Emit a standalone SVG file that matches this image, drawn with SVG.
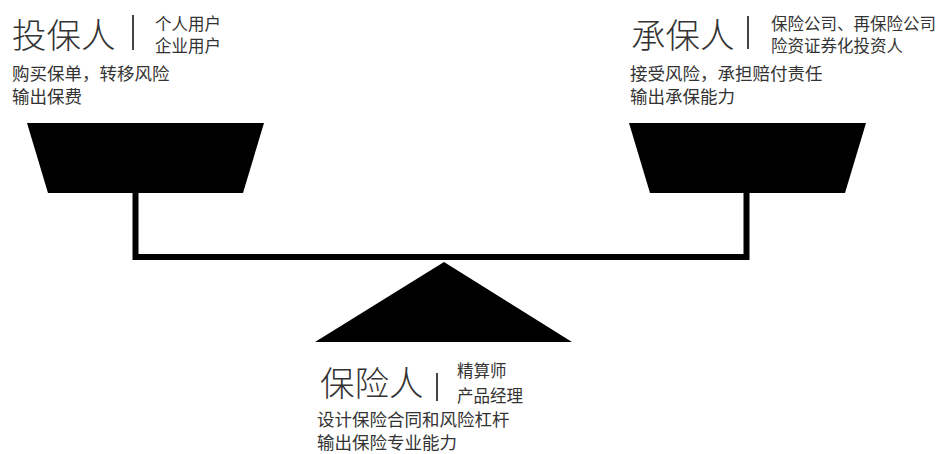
<svg xmlns="http://www.w3.org/2000/svg" width="948" height="454" viewBox="0 0 948 454">
<style>
text{font-family:"Noto Sans CJK SC","Noto Sans",sans-serif;fill:#333}
.big{font-size:34.5px;font-weight:300}
.sm{font-size:16.5px}
.desc{font-size:17.5px}
.sep{stroke:#444;stroke-width:2}
.shape{fill:#000}
.conn{fill:none;stroke:#000;stroke-width:6}
</style>
<rect width="948" height="454" fill="#fff"/>
<g id="connectors">
<path class="conn" d="M135.5,192 V257 H746.5 V192"/>
</g>
<g id="buyer">
<polygon class="shape" points="27,123 264,123 243,193 48,193"/>
<text class="big" x="12" y="48">投保人</text>
<line class="sep" x1="133" y1="15" x2="133" y2="50"/>
<text class="sm" x="155" y="29.5">个人用户</text>
<text class="sm" x="155" y="52">企业用户</text>
<text class="desc" x="12" y="80">购买保单，转移风险</text>
<text class="desc" x="12" y="103">输出保费</text>
</g>
<g id="underwriter">
<polygon class="shape" points="629,123 866,123 845,193 650,193"/>
<text class="big" x="631" y="48">承保人</text>
<line class="sep" x1="748" y1="16" x2="748" y2="49"/>
<text class="sm" x="771" y="29.5">保险公司、再保险公司</text>
<text class="sm" x="771" y="52">险资证券化投资人</text>
<text class="desc" x="630" y="80">接受风险，承担赔付责任</text>
<text class="desc" x="630" y="103">输出承保能力</text>
</g>
<g id="insurer">
<polygon class="shape" points="444,262 572,342 315,342"/>
<text class="big" x="320" y="396">保险人</text>
<line class="sep" x1="437" y1="373" x2="437" y2="401"/>
<text class="sm" x="457" y="377">精算师</text>
<text class="sm" x="457" y="402">产品经理</text>
<text class="desc" x="317" y="426">设计保险合同和风险杠杆</text>
<text class="desc" x="317" y="449">输出保险专业能力</text>
</g>
</svg>
